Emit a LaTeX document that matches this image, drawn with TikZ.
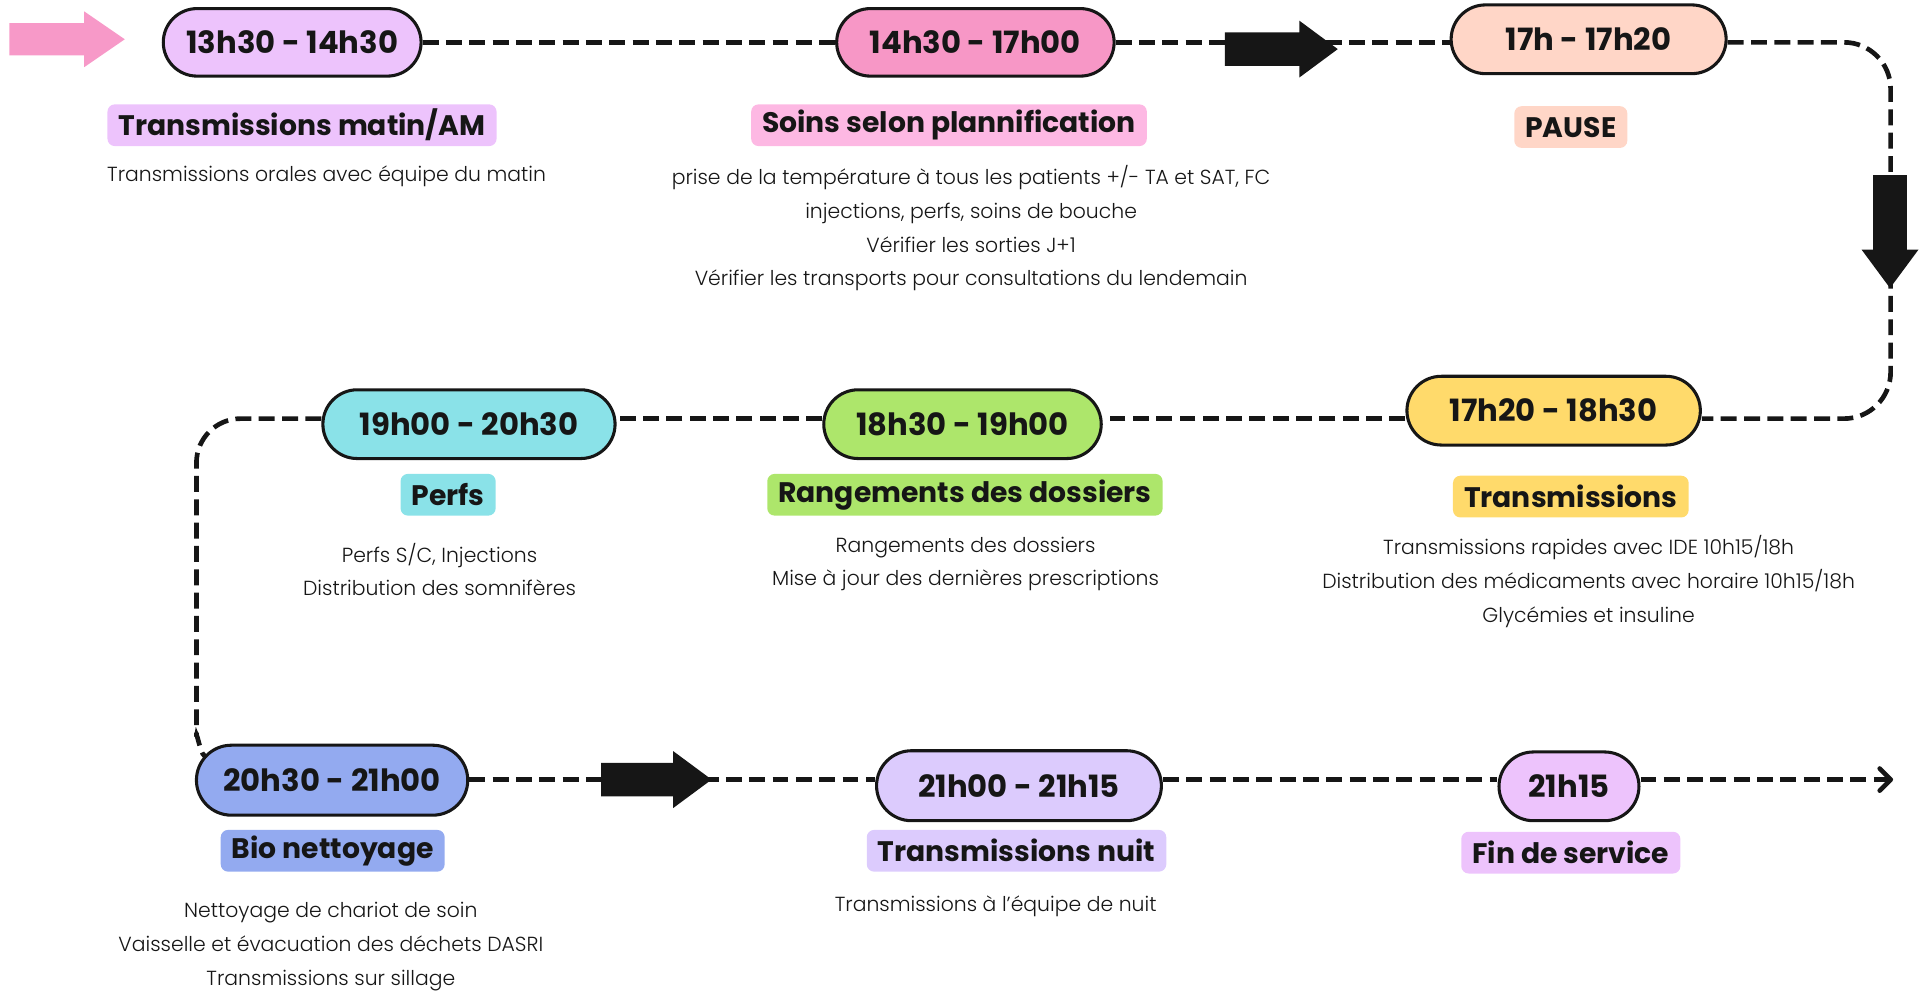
\documentclass[tikz,border=0pt]{standalone}
\usepackage{fontspec}
\usepackage{xcolor}
\usepackage{tikz}
\usetikzlibrary{shapes,arrows,positioning,calc,arrows.meta,shapes.misc}
\setmainfont{Poppins}
\IfFontExistsTF{Poppins Light}{\newfontfamily\noteFont{Poppins Light}}{\newfontfamily\noteFont{Poppins}}
\IfFontExistsTF{Poppins Bold}{\newfontfamily\headFont{Poppins Bold}}{\newfontfamily\headFont{Poppins}[FakeBold=2]}

\definecolor{ink}{HTML}{161616}
\definecolor{pinkArrow}{HTML}{F799C8}
\definecolor{lilac}{HTML}{EDC3FC}
\definecolor{pinkMid}{HTML}{F797C6}
\definecolor{pinkSoft}{HTML}{FDB8E3}
\definecolor{peach}{HTML}{FFD6C7}
\definecolor{sun}{HTML}{FFDA6B}
\definecolor{lime}{HTML}{ADE66B}
\definecolor{aqua}{HTML}{8AE2E8}
\definecolor{periwinkle}{HTML}{93AAF0}
\definecolor{lavender}{HTML}{DCCBFD}

\tikzset{
  timeBox/.style={
    rounded rectangle,
    draw=ink,
    line width=2.5pt,
    inner sep=0pt,
    minimum height=56pt,
    text=ink,
    font=\headFont\fontsize{25}{25}\selectfont
  },
  tagBox/.style={
    rectangle,
    rounded corners=6pt,
    inner xsep=9pt,
    inner ysep=0pt,
    minimum height=34pt,
    text=ink,
    font=\headFont\fontsize{23}{23}\selectfont
  },
  noteText/.style={
    anchor=north,
    align=center,
    inner sep=0pt,
    text=ink,
    font=\noteFont\fontsize{16.6}{27.5}\selectfont
  },
  dashLine/.style={
    draw=ink,
    line width=3.8pt,
    dash pattern=on 13pt off 6pt
  },
  blockArrow/.style={
    single arrow,
    anchor=tip,
    fill=ink,
    draw=none,
    inner sep=13.5pt,
    single arrow head extend=9.5pt,
    single arrow tip angle=73,
    minimum height=92pt
  }
}

\begin{document}
\begin{tikzpicture}[x=1pt,y=-1pt]
    \useasboundingbox (0,0) rectangle (1568,810);

    % time slots
    \node[timeBox, fill=lilac, minimum width=210pt, minimum height=55pt] (tMatin) at (238,34.5) {13h30 - 14h30};
    \node[timeBox, fill=pinkMid, minimum width=226pt, minimum height=55pt] (tSoins) at (794.5,34.5) {14h30 - 17h00};
    \node[timeBox, fill=peach, minimum width=224pt] (tPause) at (1294,32) {17h - 17h20};
    \node[timeBox, fill=sun, minimum width=239pt] (tTrans) at (1265.5,334.5) {17h20 - 18h30};
    \node[timeBox, fill=lime, minimum width=226pt] (tRange) at (784,345.5) {18h30 - 19h00};
    \node[timeBox, fill=aqua, minimum width=238pt] (tPerfs) at (382,345.5) {19h00 - 20h30};
    \node[timeBox, fill=periwinkle, minimum width=221pt, minimum height=57pt] (tBio) at (270.5,635.5) {20h30 - 21h00};
    \node[timeBox, fill=lavender, minimum width=232pt, minimum height=57pt] (tNuit) at (830,640) {21h00 - 21h15};
    \node[timeBox, fill=lilac, minimum width=114pt] (tFin) at (1278,640.5) {21h15};

    % titles
    \node[tagBox, fill=lilac] (gMatin) at (246,102) {Transmissions matin/AM};
    \node[tagBox, fill=pinkSoft] (gSoins) at (773,102) {Soins selon plannification};
    \node[tagBox, fill=peach] (gPause) at (1279.5,103.5) {PAUSE};
    \node[tagBox, fill=sun] (gTrans) at (1279.5,404.5) {Transmissions};
    \node[tagBox, fill=lime] (gRange) at (786,403) {Rangements des dossiers};
    \node[tagBox, fill=aqua] (gPerfs) at (365,403) {Perfs};
    \node[tagBox, fill=periwinkle] (gBio) at (271,693) {Bio nettoyage};
    \node[tagBox, fill=lavender] (gNuit) at (828,693) {Transmissions nuit};
    \node[tagBox, fill=lilac] (gFin) at (1279.5,694.5) {Fin de service};

    % details
    \node[noteText] (nMatin) at (266,135) {Transmissions orales avec équipe du matin};
    \node[noteText] (nSoins) at (791,134.5) {prise de la température à tous les patients +/- TA et SAT, FC\\injections, perfs, soins de bouche\\Vérifier les sorties J+1\\Vérifier les transports pour consultations du lendemain};
    \node[noteText] (nTrans) at (1294,436) {Transmissions rapides avec IDE 10h15/18h\\Distribution des médicaments avec horaire 10h15/18h\\Glycémies et insuline};
    \node[noteText] (nRange) at (786.5,437) {Rangements des dossiers\\Mise à jour des dernières prescriptions};
    \node[noteText] (nPerfs) at (358,442) {Perfs S/C, Injections\\Distribution des somnifères};
    \node[noteText] (nBio) at (269.5,735) {Nettoyage de chariot de soin\\Vaisselle et évacuation des déchets DASRI\\Transmissions sur sillage};
    \node[noteText] (nNuit) at (811,729.5) {Transmissions à l’équipe de nuit};

    % path of the shift
    \coordinate (rowOne) at (0,34.5);
    \coordinate (rowTwo) at (0,341);
    \coordinate (rowThree) at (0,635);
    \coordinate (bendNE) at (1540,34.5);
    \coordinate (bendSE) at (1540,341);
    \coordinate (bendNW) at (196,341);
    \coordinate (bendSW) at (160,600);
    \coordinate (bioTop) at (168,615);
    \coordinate (endPoint) at (1542,635);

    \draw[dashLine] (tMatin.east|-rowOne) -- (tSoins.west|-rowOne);
    \draw[dashLine] (tSoins.east|-rowOne) -- (tPause.west|-rowOne);
    \draw[dashLine, rounded corners=38pt] (tPause.east|-rowOne) -- (bendNE) -- (bendSE) -- (tTrans.east|-rowTwo);
    \draw[dashLine] (tTrans.west|-rowTwo) -- (tRange.east|-rowTwo);
    \draw[dashLine] (tRange.west|-rowTwo) -- (tPerfs.east|-rowTwo);
    \draw[dashLine] (tPerfs.west|-rowTwo) -- (bendNW) arc[start angle=270, end angle=180, radius=36] -- (bendSW) to[out=90,in=235] (bioTop);
    \draw[dashLine] (tBio.east|-rowThree) -- (tNuit.west|-rowThree);
    \draw[dashLine] (tNuit.east|-rowThree) -- (tFin.west|-rowThree);
    \draw[dashLine, -{Straight Barb[length=9pt,width=18pt,round]}] (tFin.east|-rowThree) -- (endPoint);

    % big arrows
    \node[blockArrow, fill=pinkArrow, minimum height=94pt, inner sep=13pt, single arrow tip angle=69] (startArrow) at (102,32) {};
    \node[blockArrow] (arrowOne) at (1090,40) {};
    \node[blockArrow, shape border rotate=270] (arrowDown) at (1539.5,235) {};
    \node[blockArrow, minimum height=90pt] (arrowTwo) at (580,635) {};
\end{tikzpicture}
\end{document}
